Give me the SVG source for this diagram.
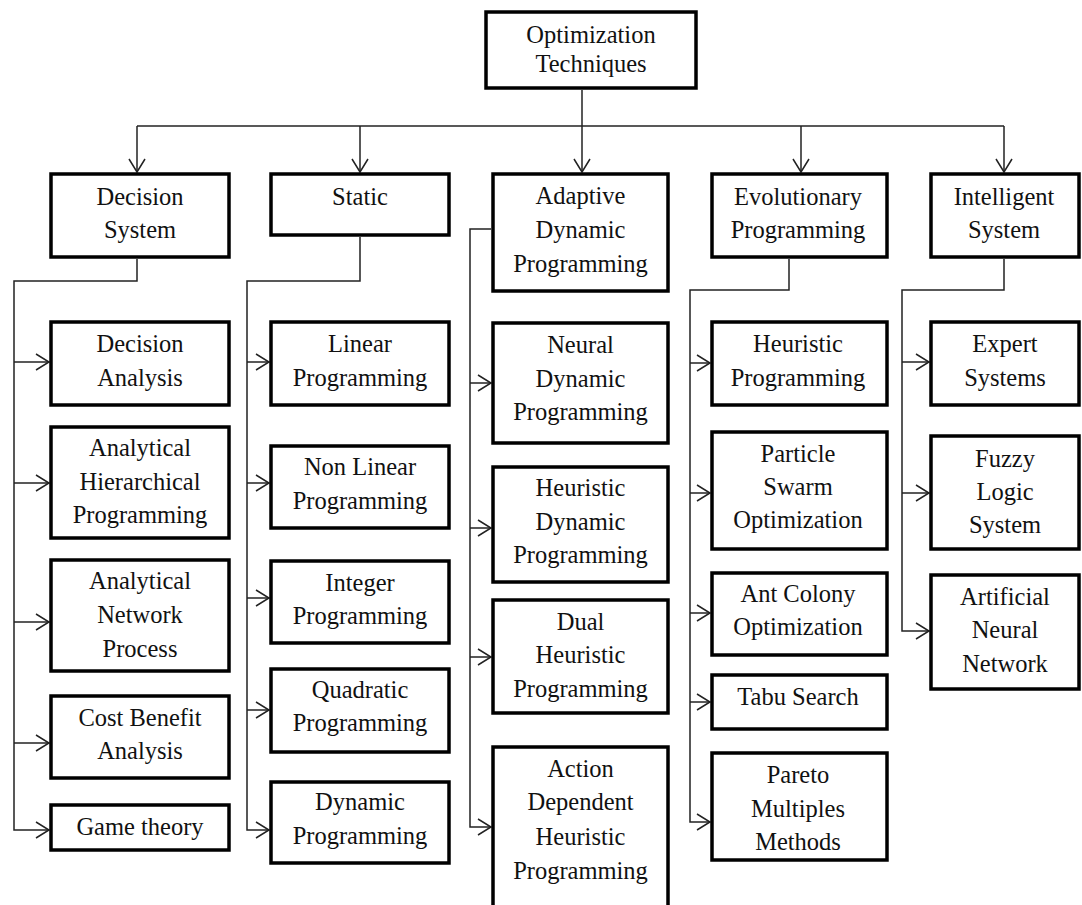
<svg xmlns="http://www.w3.org/2000/svg" width="1082" height="905" viewBox="0 0 1082 905">
<style>
.box{fill:#fff;stroke:#000;stroke-width:3.5}
.t{font-family:"Liberation Serif","Times New Roman",serif;font-size:24.5px;fill:#111;text-anchor:middle}
.c{fill:none;stroke:#222;stroke-width:1.5}
.a{fill:none;stroke:#222;stroke-width:1.5;marker-end:url(#arr)}
</style>
<defs>
<marker id="arr" markerUnits="userSpaceOnUse" markerWidth="16" markerHeight="20" viewBox="0 0 16 20" refX="14" refY="10" orient="auto">
<path d="M1,2 L14,10 L1,18" fill="none" stroke="#222" stroke-width="1.5"/>
</marker>
</defs>
<rect width="1082" height="905" fill="#fff"/>
<g id="connectors">
<path class="c" d="M137,126 H1004"/>
<path class="a" d="M582,90 V172"/>
<path class="a" d="M137,126 V172"/>
<path class="a" d="M360,126 V172"/>
<path class="a" d="M801,126 V172"/>
<path class="a" d="M1004,126 V172"/>
<path class="a" d="M137,259 V281 H14 V830 H49"/>
<path class="a" d="M14,362 H49"/>
<path class="a" d="M14,483 H49"/>
<path class="a" d="M14,622 H49"/>
<path class="a" d="M14,743 H49"/>
<path class="a" d="M360,237 V281 H247 V830 H269"/>
<path class="a" d="M247,362 H269"/>
<path class="a" d="M247,483 H269"/>
<path class="a" d="M247,598 H269"/>
<path class="a" d="M247,710 H269"/>
<path class="a" d="M491,229 H470 V827 H491"/>
<path class="a" d="M470,383 H491"/>
<path class="a" d="M470,528 H491"/>
<path class="a" d="M470,657 H491"/>
<path class="a" d="M789,259 V290 H690 V822 H710"/>
<path class="a" d="M690,363 H710"/>
<path class="a" d="M690,493 H710"/>
<path class="a" d="M690,613 H710"/>
<path class="a" d="M690,702 H710"/>
<path class="a" d="M1004,259 V290 H902 V631 H929"/>
<path class="a" d="M902,362 H929"/>
<path class="a" d="M902,493 H929"/>
</g>
<g id="n-top"><rect class="box" x="486" y="12" width="210" height="76"/><text class="t" x="591" y="43">Optimization</text><text class="t" x="591" y="72">Techniques</text></g>
<g id="n-decision-system"><rect class="box" x="51" y="174" width="178" height="83"/><text class="t" x="140" y="205">Decision</text><text class="t" x="140" y="238">System</text></g>
<g id="n-static"><rect class="box" x="271" y="174" width="178" height="61"/><text class="t" x="360" y="205">Static</text></g>
<g id="n-adaptive"><rect class="box" x="493" y="174" width="175" height="117"/><text class="t" x="580.5" y="204">Adaptive</text><text class="t" x="580.5" y="238">Dynamic</text><text class="t" x="580.5" y="272">Programming</text></g>
<g id="n-evolutionary"><rect class="box" x="712" y="174" width="175" height="83"/><text class="t" x="798" y="205">Evolutionary</text><text class="t" x="798" y="238">Programming</text></g>
<g id="n-intelligent"><rect class="box" x="931" y="174" width="148" height="83"/><text class="t" x="1004" y="205">Intelligent</text><text class="t" x="1004" y="238">System</text></g>

<g id="n-decision-analysis"><rect class="box" x="51" y="322" width="178" height="83"/><text class="t" x="140" y="352">Decision</text><text class="t" x="140" y="386">Analysis</text></g>
<g id="n-ahp"><rect class="box" x="51" y="427" width="178" height="111"/><text class="t" x="140" y="456">Analytical</text><text class="t" x="140" y="490">Hierarchical</text><text class="t" x="140" y="523">Programming</text></g>
<g id="n-anp"><rect class="box" x="51" y="560" width="178" height="111"/><text class="t" x="140" y="589">Analytical</text><text class="t" x="140" y="623">Network</text><text class="t" x="140" y="657">Process</text></g>
<g id="n-cba"><rect class="box" x="51" y="696" width="178" height="82"/><text class="t" x="140" y="726">Cost Benefit</text><text class="t" x="140" y="759">Analysis</text></g>
<g id="n-game"><rect class="box" x="51" y="805" width="178" height="45"/><text class="t" x="140" y="835">Game theory</text></g>

<g id="n-linear"><rect class="box" x="271" y="322" width="178" height="83"/><text class="t" x="360" y="352">Linear</text><text class="t" x="360" y="386">Programming</text></g>
<g id="n-nonlinear"><rect class="box" x="271" y="446" width="178" height="82"/><text class="t" x="360" y="475">Non Linear</text><text class="t" x="360" y="509">Programming</text></g>
<g id="n-integer"><rect class="box" x="271" y="561" width="178" height="82"/><text class="t" x="360" y="591">Integer</text><text class="t" x="360" y="624">Programming</text></g>
<g id="n-quadratic"><rect class="box" x="271" y="669" width="178" height="83"/><text class="t" x="360" y="698">Quadratic</text><text class="t" x="360" y="731">Programming</text></g>
<g id="n-dynamic"><rect class="box" x="271" y="782" width="178" height="81"/><text class="t" x="360" y="810">Dynamic</text><text class="t" x="360" y="844">Programming</text></g>

<g id="n-ndp"><rect class="box" x="493" y="323" width="175" height="120"/><text class="t" x="580.5" y="353">Neural</text><text class="t" x="580.5" y="387">Dynamic</text><text class="t" x="580.5" y="420">Programming</text></g>
<g id="n-hdp"><rect class="box" x="493" y="467" width="175" height="115"/><text class="t" x="580.5" y="496">Heuristic</text><text class="t" x="580.5" y="530">Dynamic</text><text class="t" x="580.5" y="563">Programming</text></g>
<g id="n-dhp"><rect class="box" x="493" y="600" width="175" height="113"/><text class="t" x="580.5" y="630">Dual</text><text class="t" x="580.5" y="663">Heuristic</text><text class="t" x="580.5" y="697">Programming</text></g>
<g id="n-adhp"><rect class="box" x="493" y="747" width="175" height="170"/><text class="t" x="580.5" y="777">Action</text><text class="t" x="580.5" y="810">Dependent</text><text class="t" x="580.5" y="845">Heuristic</text><text class="t" x="580.5" y="879">Programming</text></g>

<g id="n-hp"><rect class="box" x="712" y="322" width="175" height="83"/><text class="t" x="798" y="352">Heuristic</text><text class="t" x="798" y="386">Programming</text></g>
<g id="n-pso"><rect class="box" x="712" y="432" width="175" height="117"/><text class="t" x="798" y="462">Particle</text><text class="t" x="798" y="495">Swarm</text><text class="t" x="798" y="528">Optimization</text></g>
<g id="n-aco"><rect class="box" x="712" y="573" width="175" height="82"/><text class="t" x="798" y="602">Ant Colony</text><text class="t" x="798" y="635">Optimization</text></g>
<g id="n-tabu"><rect class="box" x="712" y="675" width="175" height="54"/><text class="t" x="798" y="705">Tabu Search</text></g>
<g id="n-pareto"><rect class="box" x="712" y="753" width="175" height="107"/><text class="t" x="798" y="783">Pareto</text><text class="t" x="798" y="817">Multiples</text><text class="t" x="798" y="850">Methods</text></g>

<g id="n-expert"><rect class="box" x="931" y="322" width="148" height="83"/><text class="t" x="1005" y="352">Expert</text><text class="t" x="1005" y="386">Systems</text></g>
<g id="n-fuzzy"><rect class="box" x="931" y="436" width="148" height="113"/><text class="t" x="1005" y="467">Fuzzy</text><text class="t" x="1005" y="500">Logic</text><text class="t" x="1005" y="533">System</text></g>
<g id="n-ann"><rect class="box" x="931" y="575" width="148" height="114"/><text class="t" x="1005" y="605">Artificial</text><text class="t" x="1005" y="638">Neural</text><text class="t" x="1005" y="672">Network</text></g>
</svg>
